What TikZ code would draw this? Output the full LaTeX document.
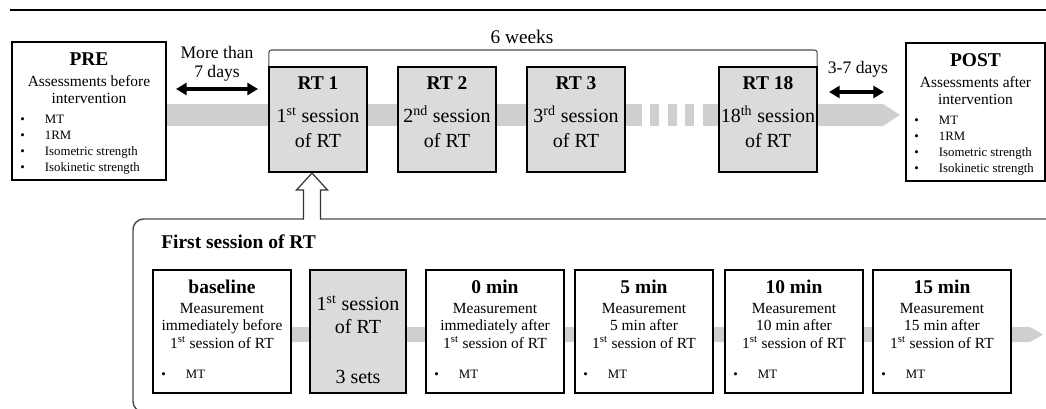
\documentclass[tikz,border=0pt]{standalone}
\usepackage{fontspec}
\setmainfont{Liberation Serif}
\usetikzlibrary{arrows.meta,backgrounds}

\tikzset{
  wbox/.style={draw, line width=1.5pt, fill=white, inner sep=0pt, anchor=north west},
  gbox/.style={wbox, fill=black!14},
  band/.style={fill=black!19},
  hd/.style={font=\fontsize{14.6}{17}\selectfont\bfseries, anchor=base, inner sep=0pt},
  big/.style={font=\fontsize{15}{18}\selectfont, anchor=base, inner sep=0pt},
  mid/.style={font=\fontsize{13.2}{16}\selectfont, anchor=base, inner sep=0pt},
  sub/.style={font=\fontsize{11.6}{14}\selectfont, anchor=base, inner sep=0pt},
  itm/.style={font=\fontsize{9.6}{12}\selectfont, anchor=base west, inner sep=0pt},
  span/.style={{Triangle[length=8pt,width=9pt]}-{Triangle[length=8pt,width=9pt]}, line width=3pt},
  hollow/.style={draw=black!80, line width=0.9pt, line join=miter},
}
\newcommand{\blt}{\makebox[18.5pt][l]{\textbullet}}

\begin{document}
\begin{tikzpicture}[x=0.75pt,y=-0.75pt]
\useasboundingbox (0,0) rectangle (1046,408);
\draw[line width=1.6pt] (10,10) -- (1046,10);

% PRE and POST
\foreach \n/\x/\y/\bw/\ttl/\when in {pre/11/41/115.5pt/PRE/before, post/905/42/104.25pt/POST/after} {
  \node[wbox, minimum width=\bw, minimum height=103.5pt] (\n) at (\x,\y) {};
  \path (\n.north) +(0,24) node[hd] (\n-a) {\ttl}
    +(0,45) node[sub] (\n-b) {Assessments \when}
    +(0,62) node[sub] (\n-c) {intervention};
  \foreach \itx [count=\i] in {MT,1RM,Isometric strength,Isokinetic strength}
    \path (\n.north west) ++(9,{66+16*\i}) node[itm] (\n-\i) {\blt\itx};
}

% training sessions
\foreach \n/\x/\rtn/\ord in {rt1/268/1/st, rt2/397/2/nd, rt3/526/3/rd, rt18/718/18/th} {
  \node[gbox, minimum width=73.5pt, minimum height=78.75pt] (\n) at (\x,66) {};
  \path (\n.north) +(0,23) node[hd] (\n-a) {RT \rtn}
    +(0,56) node[big] (\n-b) {\rtn\textsuperscript{\ord} session}
    +(0,81) node[big] (\n-c) {of RT};
}
\draw[black!70, line width=0.8pt, rounded corners=2pt] ([xshift=0.6pt]rt1.north west) -- ++(0,-16) -| ([xshift=-0.6pt]rt18.north east);
\node[font=\fontsize{14.5}{17}\selectfont, anchor=base, inner sep=0pt] (weeks) at (522,43) {6 weeks};

% gaps
\coordinate (g1a) at (176,89);
\coordinate (g1b) at (258,89);
\draw[span] (g1a) -- (g1b);
\node[mid] (g1t) at (217,58) {More than};
\node[mid] (g1u) at (217,77) {7 days};
\coordinate (g2a) at (829,92);
\coordinate (g2b) at (884,92);
\draw[span] (g2a) -- (g2b);
\node[mid] (g2t) at (858,73) {3-7 days};

% first session panel
\begin{scope}
\clip (0,0) rectangle (1046,408);
\draw[black!70, line width=1.1pt, rounded corners=8pt] (1060,219) -- (133,219) -- (133,412) -- (1060,412);
\end{scope}
\coordinate (up) at (312,219);
\fill[white] (up) ++(-8.5,1.2) -- ++(0,-30.2) -- ++(-7,0) -- ++(15.5,-17) -- ++(15.5,17) -- ++(-7,0) -- ++(0,30.2) -- cycle;
\draw[hollow] (up) ++(-8.5,0.6) -- ++(0,-29.6) -- ++(-7,0) -- ++(15.5,-17) -- ++(15.5,17) -- ++(-7,0) -- ++(0,29.6);
\node[hd, anchor=base west] (fs) at (161,248) {First session of RT};

\foreach \n/\x/\hdtxt/\when in {base/152/baseline/immediately before, m0/425/0 min/immediately after, m5/574/5 min/5 min after, m10/724/10 min/10 min after, m15/872/15 min/15 min after} {
  \node[wbox, minimum width=103.5pt, minimum height=92.25pt] (\n) at (\x,269) {};
  \path (\n.north) +(0,24) node[hd] (\n-a) {\hdtxt}
    +(0,44) node[sub] (\n-b) {Measurement}
    +(0,61.5) node[sub] (\n-c) {\when}
    +(0,79) node[sub] (\n-d) {1\textsuperscript{st} session of RT};
  \path (\n.north west) ++(9,109) node[itm] (\n-e) {\blt MT};
}
\node[gbox, minimum width=72pt, minimum height=92.25pt] (sess) at (309,269) {};
\path (sess.north) +(0,41) node[big] (sess-a) {1\textsuperscript{st} session}
  +(0,64) node[big] (sess-b) {of RT}
  +(0,114) node[big] (sess-c) {3 sets};

% bands
\begin{scope}[on background layer]
\fill[band] (pre.east |- 0,104) rectangle (642,126);
\foreach \d in {650,668,685} \fill[band] (\d,104) rectangle ++(9,22);
\fill[band] (703,104) -- (883,104) -- (900,115) -- (883,126) -- (703,126) -- cycle;
\fill[band] (base.east |- 0,327) -- (1030,327) -- (1043,334.5) -- (1030,342) -- (base.east |- 0,342) -- cycle;
\end{scope}
\end{tikzpicture}
\end{document}
